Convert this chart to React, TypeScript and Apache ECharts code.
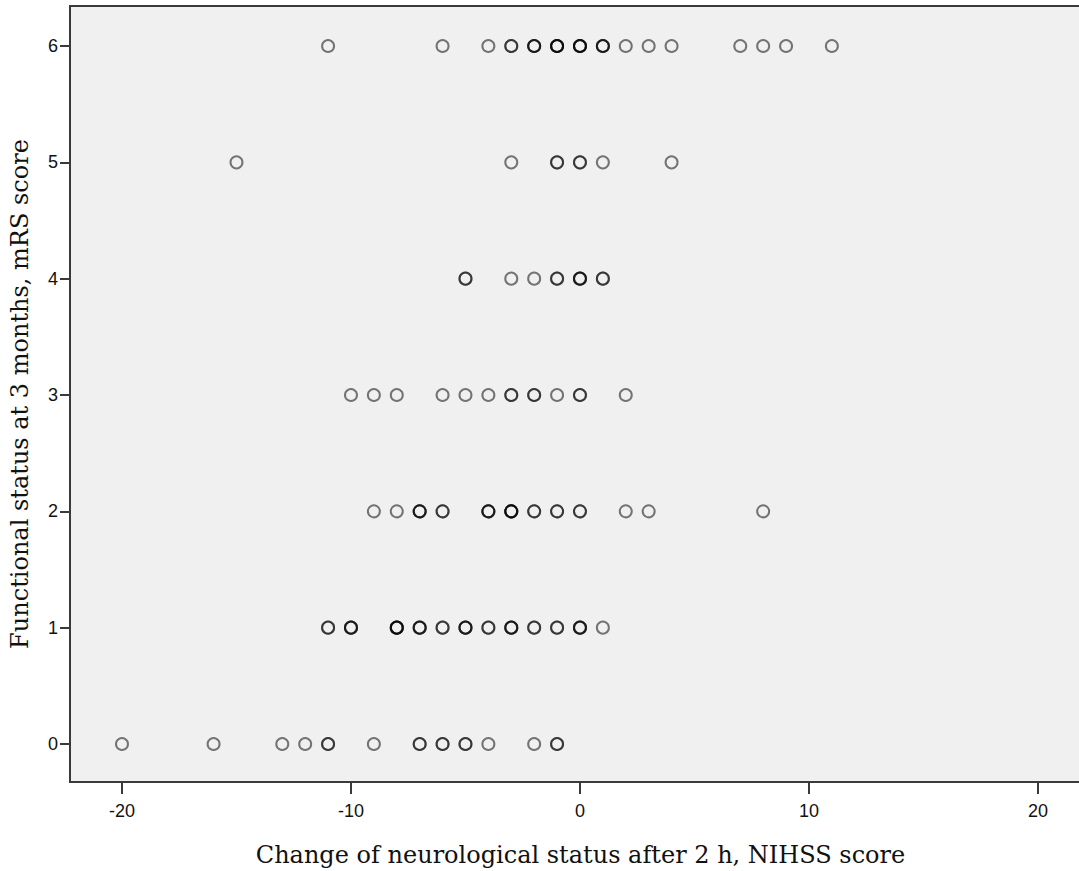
import React, { useEffect, useRef } from "react";
import * as echarts from "echarts";

// Observations per mRS score (duplicates = overlapping points)
const mrs0 = [-20, -16, -13, -12, -11, -11, -9, -7, -7, -6, -6, -5, -5, -4, -2, -1, -1];
const mrs1 = [-11, -11, -10, -10, -10, -8, -8, -8, -8, -7, -7, -7, -6, -6, -5, -5, -5, -4, -4, -3, -3, -3, -2, -2, -1, -1, 0, 0, 0, 1];
const mrs2 = [-9, -8, -7, -7, -7, -6, -6, -4, -4, -4, -3, -3, -3, -3, -2, -2, -1, -1, 0, 0, 2, 3, 8];
const mrs3 = [-10, -9, -8, -6, -5, -4, -3, -3, -2, -2, -1, 0, 0, 2];
const mrs4 = [-5, -5, -3, -2, -1, -1, 0, 0, 0, 1, 1];
const mrs5 = [-15, -3, -1, -1, 0, 0, 1, 4];
const mrs6 = [-11, -6, -4, -3, -3, -2, -2, -2, -1, -1, -1, -1, 0, 0, 0, 0, 1, 1, 1, 2, 3, 4, 7, 8, 9, 11];

const rows = [mrs0, mrs1, mrs2, mrs3, mrs4, mrs5, mrs6];
const xTicks = [-20, -10, 0, 10, 20];
const yTicks = [0, 1, 2, 3, 4, 5, 6];

export default function App() {
  const ref = useRef<HTMLDivElement>(null);
  useEffect(() => {
    if (!ref.current) return;
    const chart = echarts.init(ref.current, null, { renderer: "svg" });
    const data = rows.flatMap((xs, y) => xs.map((x) => [x, y]));
    chart.setOption({
      animation: false,
      backgroundColor: "#ffffff",
      grid: {
        left: 70,
        top: 6,
        width: 1011,
        height: 776,
        outerBoundsMode: "none",
        containLabel: false,
        show: true,
        backgroundColor: "#f0f0f0",
        borderColor: "#3a3a3a",
        borderWidth: 2,
      },
      xAxis: {
        type: "value",
        min: -22.27,
        max: 21.88,
        splitLine: { show: false },
        axisLine: { show: true, onZero: false, lineStyle: { color: "#3a3a3a", width: 2 } },
        axisTick: { show: true, length: 12, customValues: xTicks, lineStyle: { color: "#3a3a3a", width: 2 } },
        axisLabel: {
          customValues: xTicks,
          margin: 20,
          color: "#111",
          fontFamily: "Liberation Sans, Arial, sans-serif",
          fontSize: 18,
        },
        name: "Change of neurological status after 2 h, NIHSS score",
        nameLocation: "middle",
        nameGap: 61,
        nameTextStyle: {
          color: "#111",
          fontFamily: "DejaVu Serif, serif",
          fontSize: 24,
          padding: [0, 0, 0, 10],
        },
      },
      yAxis: {
        type: "value",
        min: -0.327,
        max: 6.344,
        splitLine: { show: false },
        axisLine: { show: true, onZero: false, lineStyle: { color: "#3a3a3a", width: 2 } },
        axisTick: { show: true, length: 10, customValues: yTicks, lineStyle: { color: "#3a3a3a", width: 2 } },
        axisLabel: {
          customValues: yTicks,
          margin: 12,
          color: "#111",
          fontFamily: "Liberation Sans, Arial, sans-serif",
          fontSize: 18,
        },
        name: "Functional status at 3 months, mRS score",
        nameLocation: "middle",
        nameGap: 38,
        nameMoveOverlap: false,
        nameTextStyle: {
          color: "#111",
          fontFamily: "DejaVu Serif, serif",
          fontSize: 24,
        },
      },
      series: [
        {
          type: "scatter",
          data,
          symbol: "circle",
          symbolSize: 12,
          itemStyle: {
            color: "rgba(0,0,0,0)",
            borderColor: "rgba(0,0,0,0.65)",
            borderWidth: 2,
          },
        },
      ],
    });
    return () => chart.dispose();
  }, []);
  return (
    <div
      ref={ref}
      style={{ position: "fixed", left: 0, top: 0, width: 1079, height: 871 }}
    />
  );
}
